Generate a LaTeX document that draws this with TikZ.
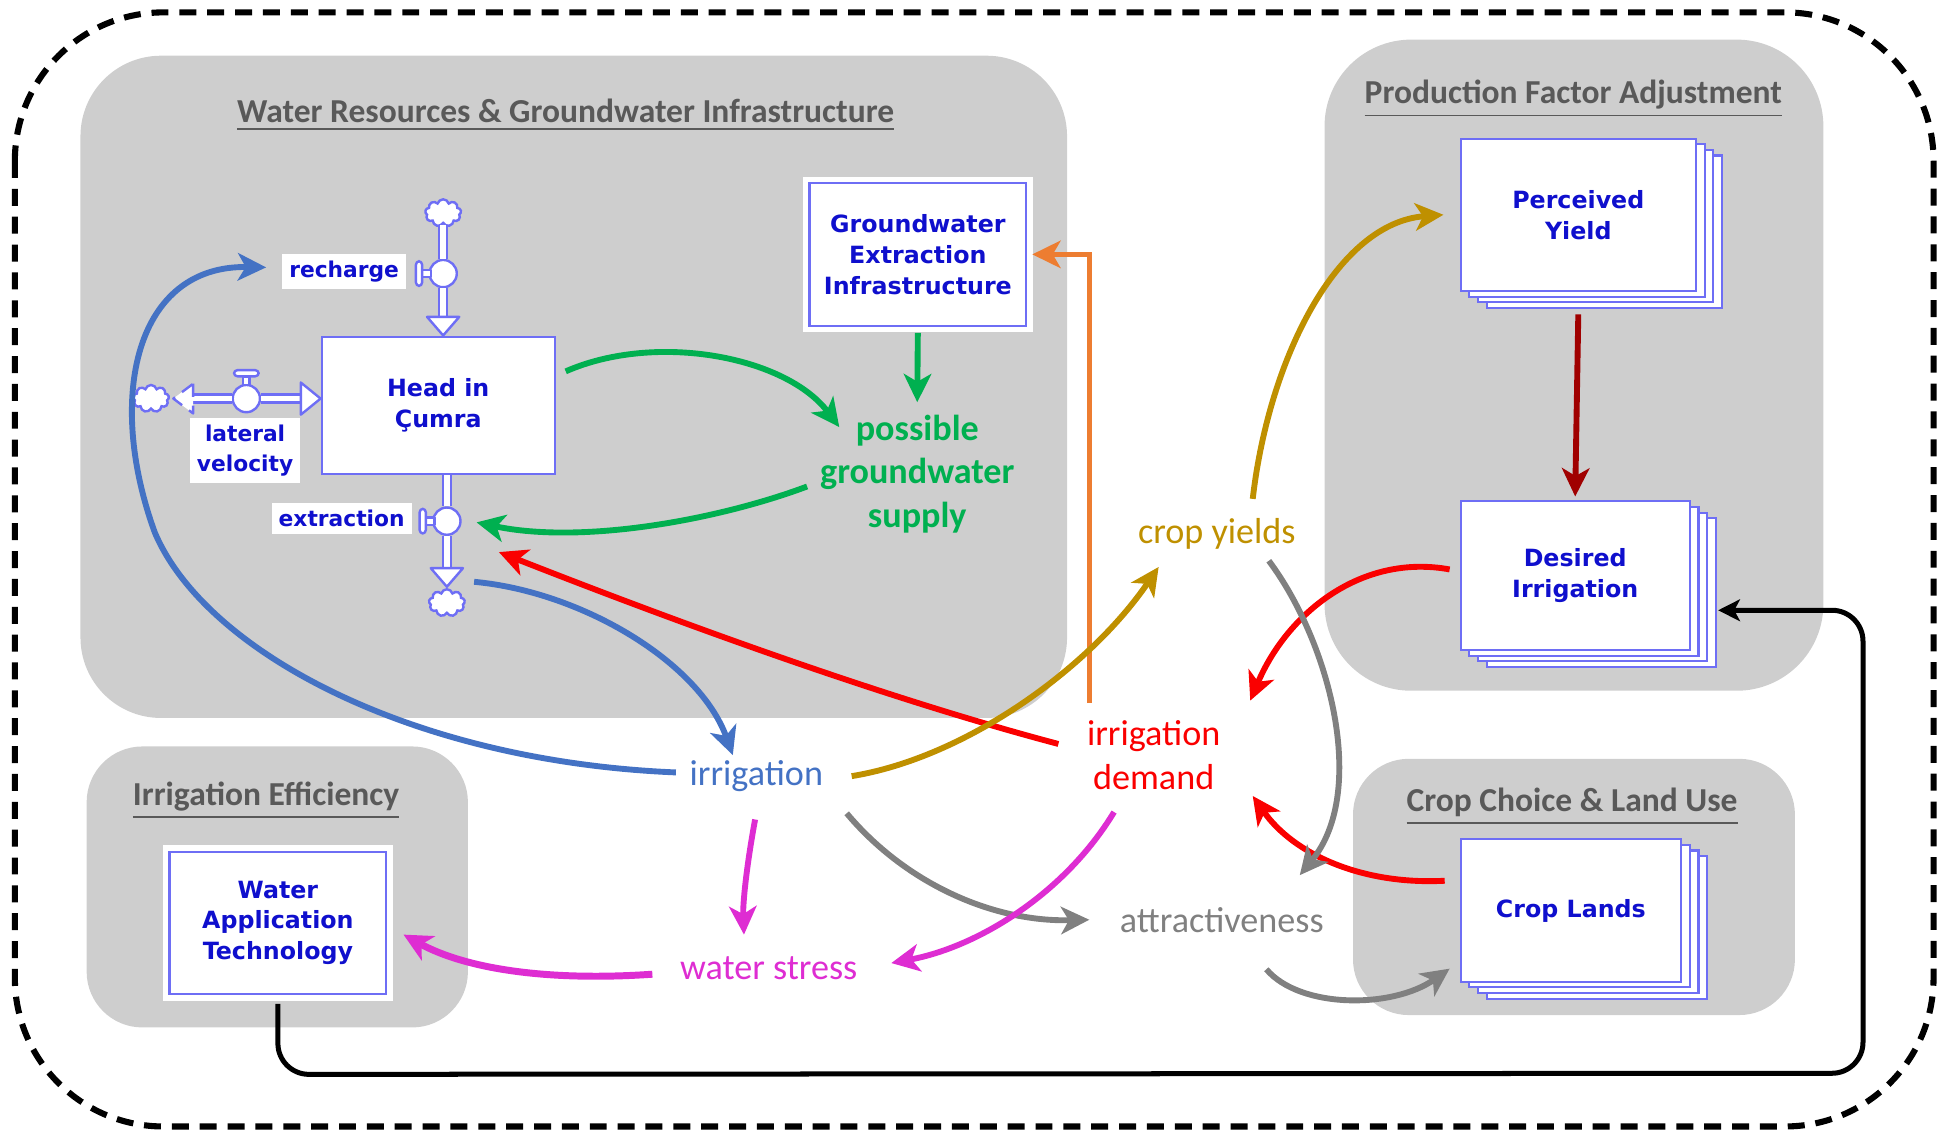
\documentclass[tikz,border=0pt]{standalone}
\usepackage{fontspec}
\setmainfont{Carlito}
\newfontfamily\boxfont{DejaVu Sans}
\usepackage{xcolor}
\usepackage{tikz}
\usetikzlibrary{arrows.meta,shapes.symbols,shadows,calc}
\definecolor{panel}{RGB}{206,206,206}
\definecolor{titlegray}{RGB}{89,89,89}
\definecolor{boxline}{RGB}{110,110,245}
\definecolor{boxtext}{RGB}{15,15,205}
\definecolor{irrblue}{RGB}{68,114,196}
\definecolor{gwgreen}{RGB}{0,176,80}
\definecolor{dmdred}{RGB}{250,0,0}
\definecolor{infraorange}{RGB}{237,125,49}
\definecolor{yieldgold}{RGB}{191,144,0}
\definecolor{darkred}{RGB}{160,0,0}
\definecolor{attrgray}{RGB}{128,128,128}
\definecolor{stressmag}{RGB}{222,45,210}

\begin{document}
\begin{tikzpicture}[x=0.01cm,y=-0.01cm,
	stockbox/.style={draw=boxline,fill=white,line width=0.5pt,align=center,text=boxtext,inner sep=0pt,font=\boxfont\bfseries\fontsize{5.45}{7.1}\selectfont},
	stackbox/.style={copy shadow={shadow xshift=6pt,shadow yshift=-3.9pt,fill=white,draw=boxline,line width=0.5pt},copy shadow={shadow xshift=4pt,shadow yshift=-2.6pt,fill=white,draw=boxline,line width=0.5pt},copy shadow={shadow xshift=2pt,shadow yshift=-1.3pt,fill=white,draw=boxline,line width=0.5pt}},
	halo/.style={preaction={draw=white,line width=3pt}},
	flowlbl/.style={fill=white,inner sep=1.6pt,align=center,text=boxtext,font=\boxfont\bfseries\fontsize{5}{6.8}\selectfont},
	varlbl/.style={align=center,inner sep=0.1cm,font=\fontsize{8.3}{9.9}\selectfont},
	paneltitle/.style={text=titlegray,font=\bfseries\fontsize{7.7}{9}\selectfont},
	pipe/.style={draw=boxline,line width=0.55pt,double=white,double distance=1.3pt},
	pipehead/.style={draw=boxline,fill=white,line width=0.55pt,line join=round},
	valve/.style={circle,draw=boxline,fill=white,line width=0.55pt,minimum size=0.22cm,inner sep=0pt},
	sink/.style={cloud,cloud puffs=9,aspect=1.3,draw=boxline,fill=white,line width=0.55pt,minimum width=0.29cm,minimum height=0.22cm,inner sep=0pt},
	causal/.style={line width=1.35pt,-{Stealth[length=6.5pt,width=6.3pt,inset=1.8pt]}}]
	\useasboundingbox (0,0) rectangle (1568,915);

	% sector panels
	\draw[line width=1.4pt,dash pattern=on 3.9pt off 2.5pt,rounded corners=1.2cm] (12,10) rectangle (1562,910);
	\fill[panel,rounded corners=0.65cm] (65,45) rectangle (862,580);%water resources
	\fill[panel,rounded corners=0.7cm] (1070,32) rectangle (1473,558);%production factor
	\fill[panel,rounded corners=0.45cm] (70,603) rectangle (378,830);%efficiency
	\fill[panel,rounded corners=0.45cm] (1093,613) rectangle (1450,820);%crop choice
	\node[paneltitle] (wrtitle) at (457,93) {\underline{Water Resources \& Groundwater Infrastructure}};
	\node[paneltitle] (pftitle) at (1271,80) {\underline{Production Factor Adjustment}};
	\node[paneltitle] (ietitle) at (215,647) {\underline{Irrigation Efficiency}};
	\node[paneltitle] (cctitle) at (1270,652) {\underline{Crop Choice \& Land Use}};

	% stocks
	\node[stockbox,minimum width=1.88cm,minimum height=1.11cm] (head) at (354,327.5) {Head in\\Çumra};
	\node[stockbox,halo,minimum width=1.75cm,minimum height=1.15cm] (gei) at (741.5,205.5) {Groundwater\\Extraction\\Infrastructure};
	\node[stockbox,stackbox,minimum width=1.90cm,minimum height=1.23cm] (py) at (1275,173.5) {Perceived\\Yield};
	\node[stockbox,stackbox,minimum width=1.85cm,minimum height=1.20cm] (di) at (1272.5,465) {Desired\\Irrigation};
	\node[stockbox,stackbox,minimum width=1.78cm,minimum height=1.15cm] (cl) at (1269,735.5) {Crop Lands};
	\node[stockbox,halo,minimum width=1.75cm,minimum height=1.15cm] (wat) at (224.5,745.5) {Water\\Application\\Technology};

	% flows of the aquifer
	\node[sink] (cloudR) at (358,172) {};
	\node[sink] (cloudL) at (122,322) {};
	\node[sink] (cloudE) at (361,487) {};
	\node[valve] (valveR) at (358,221) {};
	\node[valve] (valveL) at (199,322) {};
	\node[valve] (valveE) at (361,421) {};
	\coordinate (baseR) at (358,256);%recharge head
	\coordinate (baseL) at (243,322);%lateral head
	\coordinate (baseE) at (361,459);%extraction head
	\draw[pipe] (cloudR.south) -- (valveR.north);
	\draw[pipe] (valveR.south) -- (baseR);
	\filldraw[pipehead] (345,256) -- (371,256) -- (358,271) -- cycle;
	\draw[pipe] (156,322) -- (valveL.west);
	\draw[pipe] (valveL.east) -- (baseL);
	\filldraw[pipehead,densely dashed] (156,310) -- (156,334) -- (140,322) -- cycle;
	\filldraw[pipehead] (243,309) -- (243,335) -- (259,322) -- cycle;
	\draw[pipe] (valveE |- head.south) -- (valveE.north);
	\draw[pipe] (valveE.south) -- (baseE);
	\filldraw[pipehead] (348,459) -- (374,459) -- (361,474) -- cycle;
	\filldraw[pipehead] (341,218) rectangle (348,224);
	\filldraw[pipehead,rounded corners=0.8pt] (336,211) rectangle (341,231);
	\filldraw[pipehead] (196.5,304) rectangle (201.5,311);
	\filldraw[pipehead,rounded corners=0.8pt] (189,299) rectangle (209,304);
	\filldraw[pipehead] (344,418) rectangle (351,424);
	\filldraw[pipehead,rounded corners=0.8pt] (339,411) rectangle (344,431);
	\node[flowlbl] (rechargelbl) at (278,219) {recharge};
	\node[flowlbl] (laterallbl) at (198,364) {lateral\\velocity};
	\node[flowlbl] (extractlbl) at (276,419) {extraction};

	% variables
	\node[varlbl,text=gwgreen,font=\bfseries\fontsize{8.3}{9.9}\selectfont] (supply) at (741,383) {possible\\groundwater\\supply};
	\node[varlbl,text=yieldgold] (yields) at (983,431) {crop yields};
	\node[varlbl,text=irrblue] (irr) at (611,627) {irrigation};
	\node[varlbl,text=dmdred] (demand) at (932,610) {irrigation\\demand};
	\node[varlbl,text=stressmag] (stress) at (621,782) {water stress};
	\node[varlbl,text=attrgray] (attract) at (987,743) {attractiveness};

	% causal links
	\draw[causal,draw=irrblue] ($(irr)+(-65,-3)$) .. controls (330,615) and (165,525) .. (125,430) .. controls (85,320) and (110,214) .. ($(rechargelbl)+(-63,-3)$);
	\draw[causal,draw=irrblue] ($(cloudE)+(22,-17)$) .. controls (470,478) and (565,535) .. ($(irr)+(-19,-17)$);
	\draw[causal,draw=gwgreen] ($(head)+(103,-27.5)$) .. controls (530,268) and (635,288) .. ($(supply)+(-63,-38)$);
	\draw[causal,draw=gwgreen,shorten <=0.05cm] (gei.south) -- (supply.north);
	\draw[causal,draw=gwgreen] ($(supply)+(-89,10)$) .. controls (580,420) and (470,440) .. ($(valveE)+(24,1)$);
	\draw[causal,draw=dmdred] ($(demand)+(-77,-9)$) .. controls (700,560) and (520,492) .. ($(valveE)+(42,25)$);
	\draw[causal,draw=infraorange,line width=1.05pt,shorten >=0.04cm] ($(demand)+(-52,-42)$) |- (gei.east);
	\draw[causal,draw=yieldgold] ($(irr)+(77,0)$) .. controls (780,612) and (880,540) .. ($(yields)+(-47,27)$);
	\draw[causal,draw=yieldgold] ($(yields)+(29,-28)$) .. controls (1025,290) and (1080,180) .. ($(py.west)+(-13,0)$);
	\draw[causal,draw=darkred] ($(py.south)+(0,18)$) -- ($(di.north)+(0,-3)$);
	\draw[causal,draw=dmdred] ($(di.west)+(-8,-5)$) .. controls (1100,447) and (1040,495) .. ($(demand)+(78,-44)$);
	\draw[causal,draw=dmdred] ($(cl.west)+(-12,-24)$) .. controls (1100,715) and (1045,690) .. ($(demand)+(80,33)$);
	\draw[causal,draw=attrgray] ($(yields)+(42,22)$) .. controls (1075,520) and (1105,640) .. ($(attract)+(63,-36)$);
	\draw[causal,draw=attrgray] ($(irr)+(73,30)$) .. controls (730,712) and (800,745) .. ($(attract)+(-107,0)$);
	\draw[causal,draw=attrgray] ($(attract)+(36,40)$) .. controls (1050,815) and (1125,815) .. ($(cl.west)+(-8,47)$);
	\draw[causal,draw=stressmag] ($(irr)+(-1,35)$) .. controls (603,700) and (600,730) .. ($(stress)+(-20,-27)$);
	\draw[causal,draw=stressmag] ($(demand)+(-32,46)$) .. controls (860,722) and (790,765) .. ($(stress)+(99,-4)$);
	\draw[causal,draw=stressmag,line width=1.6pt] ($(stress)+(-94,5)$) .. controls (440,793) and (375,782) .. ($(wat.east)+(13,9.5)$);
	\draw[line width=1.15pt,rounded corners=0.25cm,shorten <=0.07cm,-{Stealth[length=5pt,width=5pt,inset=1.3pt]}] (wat.south) -- ($(wat.south)+(0,64)$) -- ($(di)+(232.5,402)$) |- ($(di)+(115.5,28)$);
\end{tikzpicture}
\end{document}
